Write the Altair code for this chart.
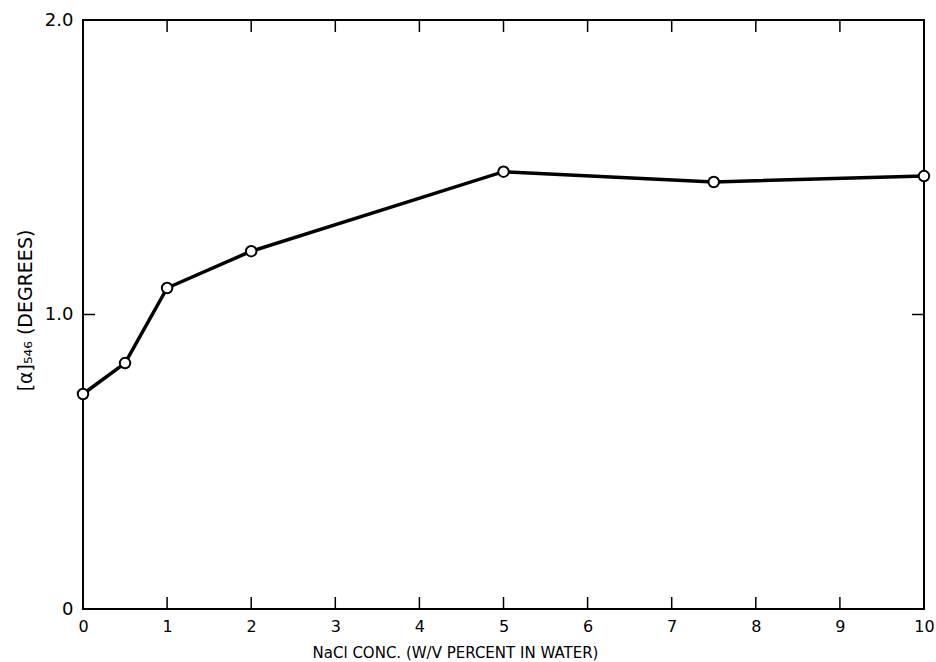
import altair as alt
import pandas as pd

# Specific rotation vs. NaCl concentration
conc = [0, 0.5, 1, 2, 5, 7.5, 10]
rotation = [0.73, 0.835, 1.09, 1.215, 1.485, 1.45, 1.47]

x_tick_values = [0, 1, 2, 3, 4, 5, 6, 7, 8, 9, 10]
y_tick_values = [0, 1.0, 2.0]
y_inner_ticks = [1.0]

W, H = 841, 589
TICK = 12
FONT = "DejaVu Sans"

df = pd.DataFrame({"conc": conc, "rot": rotation})
xt = pd.DataFrame({"t": x_tick_values})
yt = pd.DataFrame({"t": y_inner_ticks})

xscale = alt.Scale(domain=[0, 10], nice=False, zero=False)
yscale = alt.Scale(domain=[0, 2.0], nice=False, zero=False)

x_axis = alt.Axis(
    values=x_tick_values, format="d", tickSize=0, domain=False, grid=False,
    labelFlush=False, labelFont=FONT, labelFontSize=16, labelColor="black",
    labelPadding=9,
    title="NaCl CONC. (W/V PERCENT IN WATER)", titleFont=FONT, titleFontSize=15,
    titleFontWeight="normal", titleColor="black",
    titleX=372, titleY=43, titleAlign="center", titleBaseline="middle",
)
y_axis = alt.Axis(
    values=y_tick_values, tickSize=0, domain=False, grid=False,
    labelExpr="datum.value == 0 ? '0' : format(datum.value, '.1f')",
    labelFlush=False, labelFont=FONT, labelFontSize=18, labelColor="black",
    labelPadding=10,
    title="[α]₅₄₆ (DEGREES)", titleFont=FONT, titleFontSize=19,
    titleFontWeight="normal", titleColor="black",
    titleX=-58, titleY=290, titleAlign="center", titleBaseline="middle",
    titleAngle=270,
)

line = alt.Chart(df).mark_line(color="black", strokeWidth=3.5).encode(
    x=alt.X("conc:Q", scale=xscale, axis=x_axis),
    y=alt.Y("rot:Q", scale=yscale, axis=y_axis),
)
points = alt.Chart(df).mark_point(
    shape="circle", filled=True, fill="white", stroke="black",
    strokeWidth=2, size=110, opacity=1,
).encode(x="conc:Q", y="rot:Q")

# inward tick marks on all four sides of the frame
bottom_ticks = alt.Chart(xt).mark_rule(color="black", strokeWidth=1.5).encode(
    x="t:Q", y=alt.value(H), y2=alt.value(H - TICK))
top_ticks = alt.Chart(xt).mark_rule(color="black", strokeWidth=1.5).encode(
    x="t:Q", y=alt.value(0), y2=alt.value(TICK))
left_ticks = alt.Chart(yt).mark_rule(color="black", strokeWidth=1.5).encode(
    y="t:Q", x=alt.value(0), x2=alt.value(TICK))
right_ticks = alt.Chart(yt).mark_rule(color="black", strokeWidth=1.5).encode(
    y="t:Q", x=alt.value(W), x2=alt.value(W - TICK))

chart = alt.layer(
    line, bottom_ticks, top_ticks, left_ticks, right_ticks, points
).properties(
    width=W, height=H,
    autosize=alt.AutoSizeParams(type="none"),
    padding={"left": 83, "top": 20, "right": 12, "bottom": 53},
    background="white",
).configure_view(stroke="black", strokeWidth=2)

chart.save("out.html", embed_options={"renderer": "svg", "actions": False})
